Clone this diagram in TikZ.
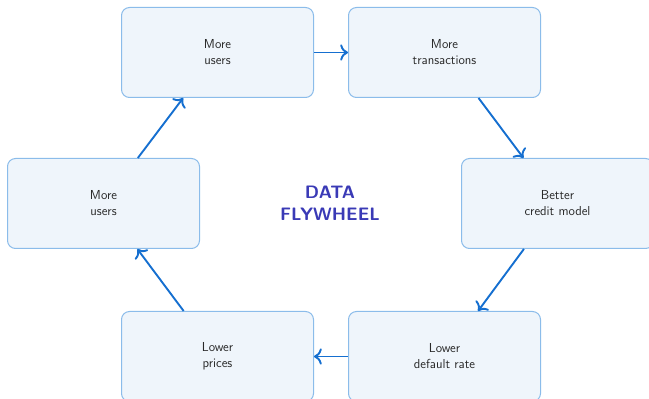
\documentclass[tikz,border=0pt]{standalone}
\usepackage{tikz}
\usetikzlibrary{arrows.meta,positioning}
\definecolor{FlowBlue}  {RGB}{ 21,111,208}
\definecolor{BoxEdge}   {RGB}{139,188,234}
\definecolor{BoxFill}   {RGB}{239,245,251}
\definecolor{TitleInk}  {RGB}{ 58, 58,182}
\definecolor{TextInk}   {RGB}{ 40, 40, 40}
\tikzset{
  %% 飞轮方框
  fwbox/.style={rectangle,rounded corners=8pt,
                draw=BoxEdge,fill=BoxFill,line width=1pt,
                minimum width=192pt,minimum height=90pt,
                font=\sffamily\fontsize{13}{16}\selectfont,
                text=TextInk,align=center},
  %% 中心标题
  fwtitle/.style={font=\sffamily\bfseries\fontsize{18}{21.5}\selectfont,
                  text=TitleInk,align=center},
  %% 箭头
  fwarr/.style={-{To[scale=1.35]},line width=1.9pt,color=FlowBlue},
}
\begin{document}
\begin{tikzpicture}[x=1pt,y=1pt]
    \useasboundingbox (0,0) rectangle (649,399);

    %% 六个环节
    \node[fwbox] (MU)  at (217.5,346.5) {More\\users};
    \node[fwbox] (MT)  at (444.5,346.5) {More\\transactions};
    \node[fwbox] (BCM) at (557.5,195.5) {Better\\credit model};
    \node[fwbox] (LDR) at (444.5, 42.5) {Lower\\default rate};
    \node[fwbox] (LP)  at (217.5, 42.5) {Lower\\prices};
    \node[fwbox] (MU2) at (103.5,195.5) {More\\users};

    %% 中心
    \node[fwtitle] (FW) at (330,195.5) {DATA\\FLYWHEEL};

    %% 循环箭头
    \draw[fwarr] (MU)  -- (MT);
    \draw[fwarr] (MT)  -- (BCM);
    \draw[fwarr] (BCM) -- (LDR);
    \draw[fwarr] (LDR) -- (LP);
    \draw[fwarr] (LP)  -- (MU2);
    \draw[fwarr] (MU2) -- (MU);
  \end{tikzpicture}
\end{document}
